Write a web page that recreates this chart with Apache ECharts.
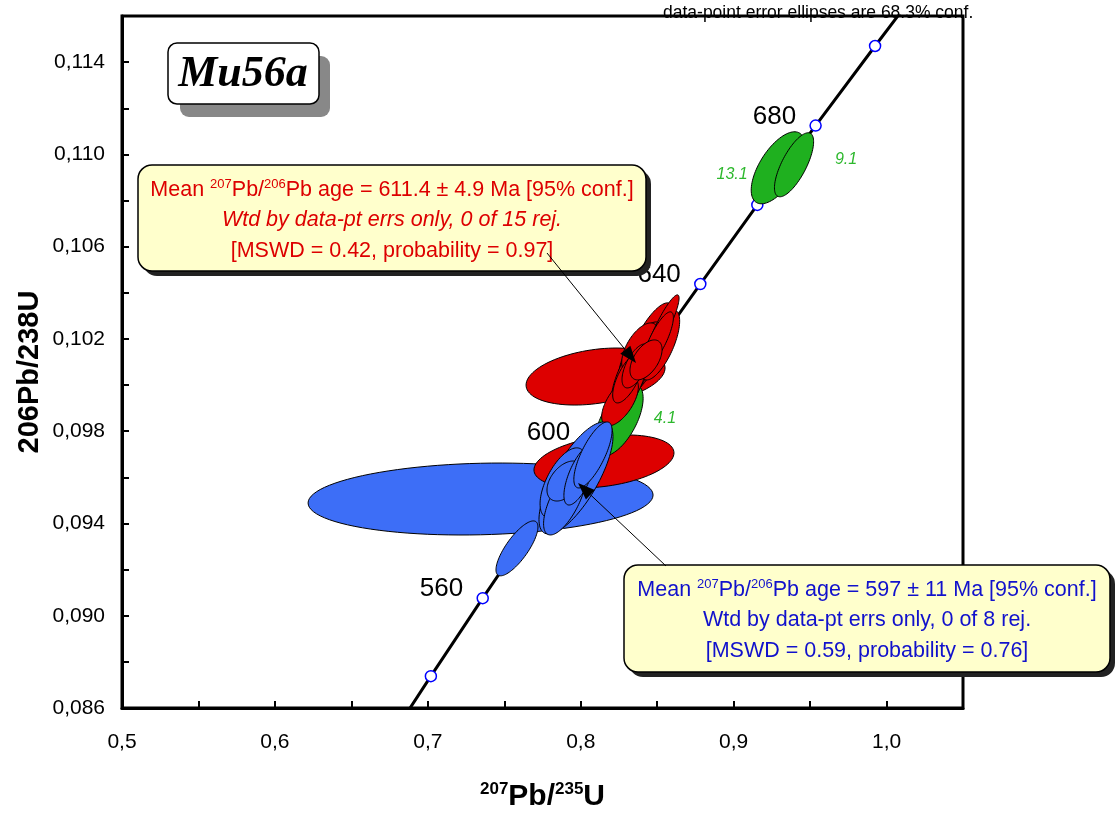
<!DOCTYPE html>
<html><head><meta charset="utf-8">
<script src="https://cdn.jsdelivr.net/npm/echarts@6/dist/echarts.min.js"></script>
<style>html,body{margin:0;padding:0;background:#fff}#c{width:1117px;height:814px}</style>
</head><body><div id="c"></div>
<script>
// ---- Concordia reference points (age in Ma, x = 207Pb/235U, y = 206Pb/238U)
const concAges = [520, 540, 560, 580, 600, 620, 640, 660, 680, 700, 720];
const concX = [0.6688, 0.7020, 0.7359, 0.7705, 0.8058, 0.8415, 0.8782, 0.9155, 0.9536, 0.9925, 1.0322];
const concY = [0.08401, 0.08738, 0.09076, 0.09414, 0.09754, 0.10096, 0.10438, 0.10781, 0.11125, 0.11470, 0.11817];
const concLabelAges = [560, 600, 640, 680];

// ---- Error ellipses: [x, y, sigmaX, sigmaY, rho]
const blueEllipses = [
  [0.7345, 0.09506, 0.1128, 0.00156, 0.11],
  [0.7583, 0.09292, 0.01373, 0.00119, 0.78],
  [0.7969, 0.09597, 0.02420, 0.002428, 0.74],
  [0.7884, 0.09576, 0.01500, 0.001518, 0.60],
  [0.7897, 0.09502, 0.01400, 0.001518, 0.68],
  [0.7897, 0.09584, 0.01177, 0.000867, 0.45],
  [0.7995, 0.09610, 0.01050, 0.00130, 0.68],
  [0.8080, 0.09697, 0.01250, 0.001431, 0.74]
];
const redEllipses = [
  [0.8097, 0.10037, 0.04545, 0.001236, 0.30],
  [0.8152, 0.09669, 0.04578, 0.001149, 0.32],
  [0.8421, 0.10131, 0.0170, 0.001388, 0.58],
  [0.8453, 0.10183, 0.0155, 0.001735, 0.74],
  [0.8388, 0.10109, 0.0155, 0.001648, 0.68],
  [0.8342, 0.10057, 0.0142, 0.001648, 0.72],
  [0.8519, 0.10174, 0.0128, 0.001518, 0.68],
  [0.8388, 0.10161, 0.0120, 0.001084, 0.58],
  [0.8303, 0.09988, 0.0128, 0.001388, 0.74],
  [0.8257, 0.09927, 0.0120, 0.001041, 0.62],
  [0.8532, 0.10248, 0.01112, 0.001431, 0.90],
  [0.8506, 0.10196, 0.0100, 0.001214, 0.80],
  [0.8309, 0.10031, 0.0100, 0.001084, 0.68],
  [0.8362, 0.10083, 0.0092, 0.000954, 0.62],
  [0.8427, 0.10109, 0.0105, 0.000867, 0.52]
];
const greenEllipses = [
  [0.9290, 0.10942, 0.0175, 0.001561, 0.62],
  [0.9395, 0.10955, 0.0128, 0.001388, 0.72],
  [0.8250, 0.09849, 0.0158, 0.001561, 0.60]
];

// ---- Spot labels (green)
const spotLabels = ['13.1', '9.1', '4.1'];
const spotX = [0.8990, 0.9735, 0.8551];
const spotY = [0.10911, 0.10976, 0.09853];

// ---- Axes
const xMin = 0.5, xMax = 1.05, xStep = 0.1;
const yMin = 0.086, yMax = 0.116, yStep = 0.004;
const yTitle = '206Pb/238U';

// ---- Annotation text
const sampleName = 'Mu56a';
const noteText = 'data-point error ellipses are 68.3% conf.';
const redBox = ['611.4 ± 4.9', '0 of 15', '0.42', '0.97'];
const blueBox = ['597 ± 11', '0 of 8', '0.59', '0.76'];

const FONT = "'Liberation Sans', Arial, sans-serif";
const colors = ['#3d6ef7', '#dd0000', '#1fb01f'];

// drawing order: big ellipses first, then green, red, blue
const ell = [];
[blueEllipses, redEllipses, greenEllipses].forEach((arr, g) => arr.forEach(e => ell.push([...e, g])));
const rank = {2: 0, 1: 1, 0: 2};
ell.sort((a, b) => {
  const ba = a[2] > 0.03 ? 0 : 1, bb = b[2] > 0.03 ? 0 : 1;
  if (ba !== bb) return ba - bb;
  if (ba === 0) return b[2] * b[3] - a[2] * a[3];
  return rank[a[5]] - rank[b[5]];
});

function renderEllipse(params, api) {
  const cx = api.value(0), cy = api.value(1), sx = api.value(2), sy = api.value(3), r = api.value(4), g = api.value(5);
  const k = Math.sqrt(1 - r * r);
  const pts = [];
  const N = 100;
  for (let i = 0; i < N; i++) {
    const t = i / N * Math.PI * 2;
    const c = Math.cos(t), s = Math.sin(t);
    pts.push(api.coord([cx + sx * c, cy + sy * (r * c + k * s)]));
  }
  return { type: 'polygon', shape: { points: pts }, style: { fill: colors[g], stroke: '#000', lineWidth: 1 } };
}

const chart = echarts.init(document.getElementById('c'), null, { renderer: 'canvas' });

function arrow(x1, y1, x2, y2) {
  const ang = Math.atan2(y2 - y1, x2 - x1);
  const L = 17, W = 6.5;
  const bx = x2 - L * Math.cos(ang), by = y2 - L * Math.sin(ang);
  const px = -Math.sin(ang) * W, py = Math.cos(ang) * W;
  return [
    { type: 'line', shape: { x1, y1, x2: bx, y2: by }, style: { stroke: '#000', lineWidth: 1 }, z: 20 },
    { type: 'polygon', shape: { points: [[x2, y2], [bx + px, by + py], [bx - px, by - py]] }, style: { fill: '#000' }, z: 20 }
  ];
}

const supRich = (col) => ({
  n: { fontSize: 21.5, fill: col, fontFamily: FONT, lineHeight: 24 },
  s: { fontSize: 13, fill: col, fontFamily: FONT, verticalAlign: 'top', lineHeight: 24 }
});

function statBox(x, y, w, h, col, vals, italic2) {
  const cx = x + w / 2;
  return [
    { type: 'rect', shape: { x: x + 5, y: y + 5, width: w, height: h, r: 14 }, style: { fill: '#222' }, z: 10 },
    { type: 'rect', shape: { x, y, width: w, height: h, r: 14 }, style: { fill: '#ffffcc', stroke: '#000', lineWidth: 1.5 }, z: 11 },
    { type: 'text', x: cx, y: y + 25, z: 12, style: {
      text: '{n|Mean }{s|207}{n|Pb/}{s|206}{n|Pb age = ' + vals[0] + ' Ma [95% conf.]}',
      rich: supRich(col), align: 'center', verticalAlign: 'middle' } },
    { type: 'text', x: cx, y: y + 55, z: 12, style: {
      text: 'Wtd by data-pt errs only, ' + vals[1] + ' rej.', fill: col, font: (italic2 ? 'italic ' : '') + '21.5px ' + FONT,
      align: 'center', verticalAlign: 'middle' } },
    { type: 'text', x: cx, y: y + 86, z: 12, style: {
      text: '[MSWD = ' + vals[2] + ', probability = ' + vals[3] + ']', fill: col, font: '21.5px ' + FONT,
      align: 'center', verticalAlign: 'middle' } }
  ];
}

const graphics = [
  { type: 'rect', shape: { x: 180, y: 56, width: 150, height: 61, r: 9 }, style: { fill: '#888' }, z: 10 },
  { type: 'rect', shape: { x: 168, y: 43, width: 151, height: 61, r: 9 }, style: { fill: '#fff', stroke: '#000', lineWidth: 1.5 }, z: 11 },
  { type: 'text', x: 243, y: 75, z: 12, style: { text: sampleName, font: "italic bold 44px 'Liberation Serif', 'Times New Roman', serif", fill: '#000', align: 'center', verticalAlign: 'middle' } },
  { type: 'text', x: 663, y: 13, z: 12, style: { text: noteText, font: '17.5px ' + FONT, fill: '#000', align: 'left', verticalAlign: 'middle' } },
  { type: 'text', x: 30, y: 372, rotation: Math.PI / 2, z: 12, style: { text: yTitle, font: 'bold 29px ' + FONT, fill: '#000', align: 'center', verticalAlign: 'middle' } },
  ...statBox(138, 165, 508, 106, '#dd0000', redBox, true),
  ...statBox(624, 565, 486, 107, '#1111cc', blueBox, false),
  ...arrow(547, 253, 636, 363),
  ...arrow(666, 566, 578, 483)
];

const option = {
  animation: false,
  backgroundColor: '#fff',
  textStyle: { fontFamily: FONT },
  grid: { left: 122, top: 16, right: 154, bottom: 106, show: true, borderColor: '#000', borderWidth: 3, containLabel: false, outerBoundsMode: 'none' },
  xAxis: {
    type: 'value', min: xMin, max: xMax, interval: xStep,
    axisLine: { lineStyle: { color: '#000', width: 3 } },
    axisTick: { inside: true, length: 7, lineStyle: { color: '#000', width: 2 } },
    minorTick: { show: true, splitNumber: 2, length: 7, lineStyle: { color: '#000', width: 2 } },
    splitLine: { show: false },
    axisLabel: { fontSize: 21, color: '#000', margin: 24, showMaxLabel: false, formatter: v => v.toFixed(1).replace('.', ',') },
    name: '{s|207}{b|Pb/}{s|235}{b|U}', nameLocation: 'middle', nameGap: 73,
    nameTextStyle: { rich: {
      s: { fontSize: 17, fontWeight: 'bold', color: '#000', verticalAlign: 'top', lineHeight: 32, fontFamily: FONT },
      b: { fontSize: 30, fontWeight: 'bold', color: '#000', lineHeight: 32, fontFamily: FONT } } }
  },
  yAxis: {
    type: 'value', min: yMin, max: yMax, interval: yStep,
    axisLine: { lineStyle: { color: '#000', width: 3 } },
    axisTick: { inside: true, length: 7, lineStyle: { color: '#000', width: 2 } },
    minorTick: { show: true, splitNumber: 2, length: 7, lineStyle: { color: '#000', width: 2 } },
    splitLine: { show: false },
    axisLabel: { fontSize: 21, color: '#000', margin: 17, showMaxLabel: false, formatter: v => v.toFixed(3).replace('.', ',') }
  },
  graphic: graphics,
  series: [
    {
      type: 'line', z: 2, clip: true,
      data: concX.map((x, i) => [x, concY[i], concAges[i]]),
      lineStyle: { color: '#000', width: 3 },
      symbol: 'circle', symbolSize: 11, showSymbol: true,
      itemStyle: { color: '#fff', borderColor: '#0000ff', borderWidth: 1.5 },
      emphasis: { disabled: true }, silent: true
    },
    {
      type: 'custom', z: 3, clip: true,
      renderItem: renderEllipse,
      data: ell, silent: true
    },
    {
      type: 'scatter', z: 6, symbolSize: 1, silent: true,
      itemStyle: { color: 'rgba(0,0,0,0)', opacity: 1 },
      data: concAges.map((a, i) => [concX[i], concY[i], a]).filter(d => concLabelAges.includes(d[2])),
      label: { show: true, position: 'left', distance: 19, offset: [0, -9], fontSize: 26, color: '#000', formatter: p => String(p.value[2]) }
    },
    {
      type: 'scatter', z: 6, symbolSize: 1, silent: true,
      itemStyle: { color: 'rgba(0,0,0,0)', opacity: 1 },
      data: spotLabels.map((s, i) => ({ value: [spotX[i], spotY[i]], name: s })),
      label: { show: true, position: 'inside', fontSize: 16, fontStyle: 'italic', color: '#2db82d', formatter: p => p.name }
    }
  ]
};
chart.setOption(option);
</script>
</body></html>
